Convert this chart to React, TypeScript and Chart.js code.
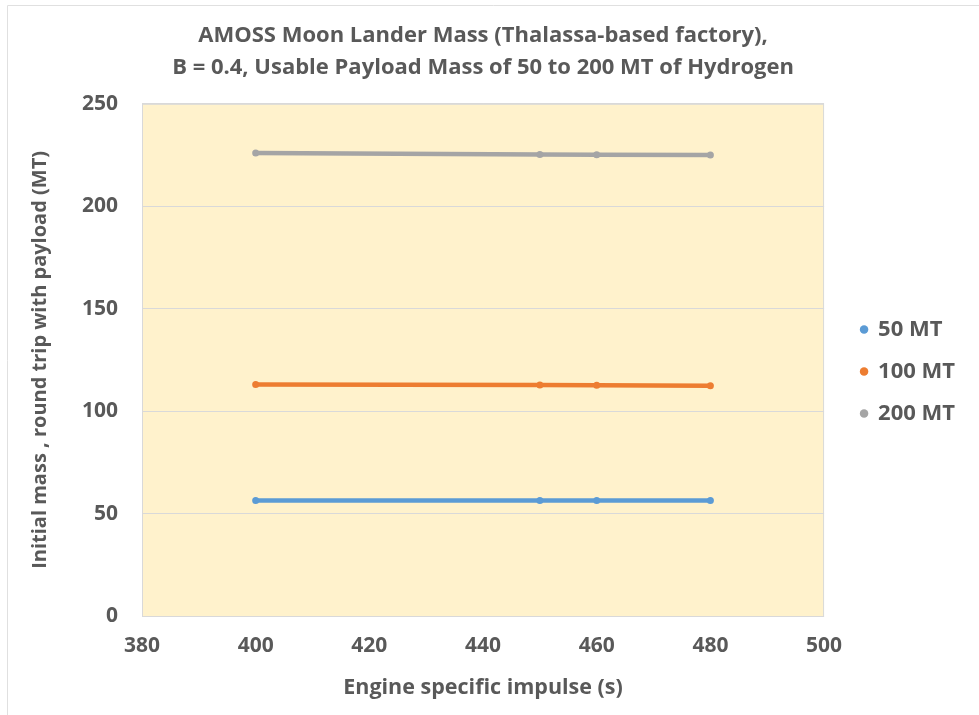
import React, { useEffect, useRef } from "react";
import { Chart, registerables } from "chart.js";

Chart.register(...registerables);

const impulses = [400, 450, 460, 480];
const mt50 = [56.4, 56.4, 56.4, 56.4];
const mt100 = [113.0, 112.7, 112.6, 112.4];
const mt200 = [226.0, 225.2, 225.1, 225.0];
const seriesNames = ["50 MT", "100 MT", "200 MT"];
const colors = ["#5B9BD5", "#ED7D31", "#A5A5A5"];
const titleLines = [
  "AMOSS Moon Lander Mass (Thalassa-based factory),",
  "B = 0.4, Usable Payload Mass of 50 to 200 MT of Hydrogen",
];

const FONT = "'Open Sans', sans-serif";
const TEXT = "#595959";

const bgPlugin = {
  id: "plotBg",
  beforeDraw(chart: any) {
    const { ctx, chartArea } = chart;
    if (!chartArea) return;
    ctx.save();
    ctx.fillStyle = "#FFF2CC";
    ctx.fillRect(chartArea.left, chartArea.top, chartArea.right - chartArea.left, chartArea.bottom - chartArea.top);
    ctx.strokeStyle = "#D9D9D9";
    ctx.lineWidth = 1;
    ctx.strokeRect(chartArea.left + 0.5, chartArea.top + 0.5, chartArea.right - chartArea.left - 1, chartArea.bottom - chartArea.top);
    // outer chart frame
    ctx.strokeStyle = "#E0E0E0";
    ctx.beginPath();
    ctx.moveTo(7.5, 715);
    ctx.lineTo(7.5, 5.5);
    ctx.lineTo(979, 5.5);
    ctx.stroke();
    ctx.restore();
  },
};

export default function App() {
  const ref = useRef<HTMLCanvasElement>(null);
  useEffect(() => {
    document.body.style.margin = "0";
    const all = [mt50, mt100, mt200];
    const chart = new Chart(ref.current!, {
      type: "line",
      data: {
        datasets: all.map((vals, i) => ({
          label: seriesNames[i],
          data: impulses.map((x, j) => ({ x, y: vals[j] })),
          borderColor: colors[i],
          backgroundColor: colors[i],
          borderWidth: 4.5,
          pointRadius: 3.5,
          pointBorderWidth: 0,
          pointStyle: "circle",
          tension: 0,
        })),
      },
      options: {
        animation: false,
        responsive: false,
        maintainAspectRatio: false,
        layout: { padding: { left: 10, right: 14, top: 20, bottom: 14 } },
        plugins: {
          title: {
            display: true,
            fullSize: false,
            text: titleLines,
            color: TEXT,
            font: { family: FONT, size: 22, weight: "bold", lineHeight: 1.45 },
            padding: { top: 0, bottom: 20 },
          },
          legend: {
            position: "right",
            title: {
              display: true,
              text: " ",
              font: { size: 10, lineHeight: 1 },
              padding: { top: 6, bottom: 6 },
            },
            labels: {
              usePointStyle: true,
              pointStyle: "circle",
              boxWidth: 6,
              boxHeight: 6,
              color: TEXT,
              padding: 20,
              font: { family: FONT, size: 22, weight: "bold" },
            },
          },
          tooltip: { enabled: false },
        },
        scales: {
          x: {
            type: "linear",
            min: 380,
            max: 500,
            ticks: {
              stepSize: 20,
              color: TEXT,
              padding: 17,
              font: { family: FONT, size: 21, weight: "bold" },
            },
            grid: { display: false, drawTicks: false },
            border: { display: false },
            title: {
              display: true,
              text: "Engine specific impulse (s)",
              color: TEXT,
              font: { family: FONT, size: 21.5, weight: "bold" },
              padding: { top: 0, bottom: 0 },
            },
          },
          y: {
            min: 0,
            max: 250,
            afterFit: (s: any) => {
              s.width = 132;
            },
            ticks: {
              stepSize: 50,
              color: TEXT,
              padding: 24,
              font: { family: FONT, size: 21, weight: "bold" },
            },
            grid: { color: "#D9D9D9", drawTicks: false },
            border: { display: false },
            title: {
              display: true,
              text: "Initial mass , round trip with payload (MT)",
              color: TEXT,
              font: { family: FONT, size: 20, weight: "bold" },
              padding: { top: 18, bottom: 0 },
            },
          },
          spacer: {
            type: "linear",
            position: "right",
            min: 0,
            max: 1,
            afterFit: (s: any) => {
              s.width = 17;
            },
            ticks: { display: false },
            grid: { display: false, drawTicks: false },
            border: { display: false },
          },
        },
      },
      plugins: [bgPlugin],
    });
    return () => chart.destroy();
  }, []);
  return <canvas ref={ref} width={979} height={715} style={{ display: "block" }} />;
}
